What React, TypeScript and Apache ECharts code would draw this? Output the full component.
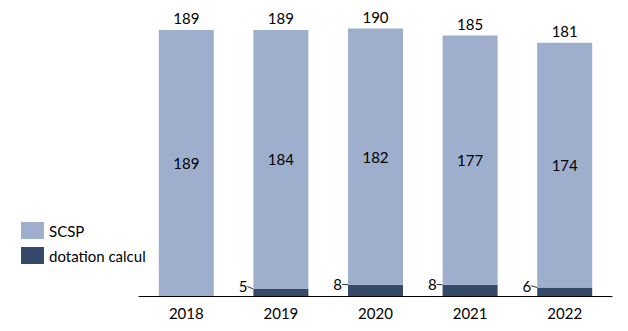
import React, { useEffect, useRef } from "react";
import * as echarts from "echarts";

const categories = ["2018", "2019", "2020", "2021", "2022"];
const dotation = [0, 5, 8, 8, 6];
const scsp = [189, 184, 182, 177, 174];
const totals = [189, 189, 190, 185, 181];

const FONT = "Lato, 'Open Sans', sans-serif";

export default function App() {
  const ref = useRef<HTMLDivElement>(null);
  useEffect(() => {
    if (!ref.current) return;
    const chart = echarts.init(ref.current, undefined, { renderer: "svg" });
    chart.setOption({
      animation: false,
      textStyle: { fontFamily: FONT },
      legend: {
        orient: "vertical",
        left: 8,
        top: 209,
        itemWidth: 23,
        itemHeight: 17,
        itemGap: 8,
        icon: "rect",
        data: ["SCSP", "dotation calcul"],
        textStyle: { fontSize: 15, color: "#000", fontFamily: FONT },
      },
      grid: { left: 131, right: 16, top: 6.5, bottom: 35 },
      xAxis: {
        type: "category",
        data: categories,
        axisTick: { show: false },
        axisLine: { lineStyle: { color: "#000", width: 1 } },
        axisLabel: { fontSize: 15, color: "#000", margin: 9, fontFamily: FONT },
      },
      yAxis: { type: "value", min: 0, max: 200, show: false },
      series: [
        {
          name: "dotation calcul",
          type: "bar",
          stack: "t",
          barWidth: 55,
          itemStyle: { color: "#35496A" },
          data: dotation.map((v) => ({
            value: v,
            label: { show: v > 0 },
            labelLine: { show: v > 0 },
          })),
          label: {
            show: true,
            position: "left",
            distance: 5,
            fontSize: 15,
            color: "#000",
            fontFamily: FONT,
          },
          labelLayout: { dx: -1, dy: -6 },
          labelLine: { show: true, lineStyle: { color: "#333", width: 1 } },
        },
        {
          name: "SCSP",
          type: "bar",
          stack: "t",
          barWidth: 55,
          itemStyle: { color: "#9DAFCD" },
          data: scsp,
          label: {
            show: true,
            position: "inside",
            fontSize: 15,
            color: "#000",
            fontFamily: FONT,
          },
        },
        {
          name: "total",
          type: "bar",
          stack: "t",
          barWidth: 55,
          silent: true,
          itemStyle: { color: "transparent" },
          data: totals.map(() => 0),
          label: {
            show: true,
            position: "top",
            distance: 4,
            fontSize: 15,
            color: "#000",
            fontFamily: FONT,
            formatter: (p: any) => String(totals[p.dataIndex]),
          },
        },
      ],
    });
    return () => chart.dispose();
  }, []);
  return <div ref={ref} style={{ width: 620, height: 323 }} />;
}
